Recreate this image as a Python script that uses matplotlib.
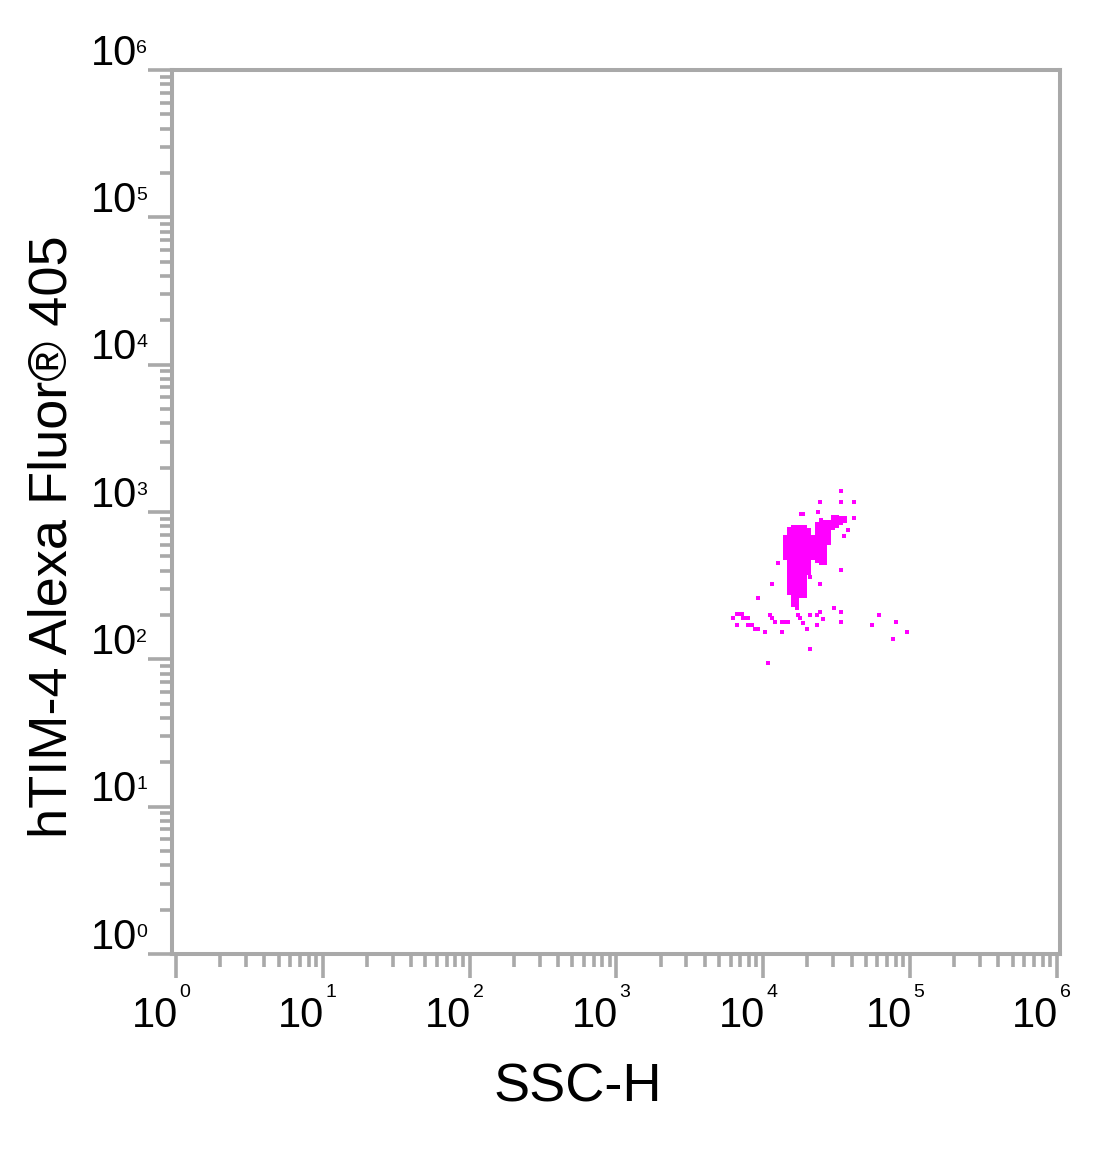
import numpy as np
import matplotlib
matplotlib.use("Agg")
import matplotlib.pyplot as plt

plt.rcParams['font.family'] = ['Liberation Sans', 'DejaVu Sans']

# ---- data ----
# dense core of the event cloud: column edges on SSC-H and per-column range of fluorescence
core_ssc_edges = [13640, 14520, 15460, 16470, 17540, 18650, 19870, 21170, 22550,
                  23990, 25550, 27200, 28980, 30830, 32850, 34980, 37220]
core_fl_low = [473, 274, 234, 216, 261, 261, 374, 473, 451, 438, 438, 598, 756, 780, 817, 843]
core_fl_high = [699, 792, 817, 817, 817, 817, 780, 699, 857, 912, 884, 884, 955, 955, 941, 941]

# isolated events
event_ssc = [33890, 24380, 33890, 41560, 18090, 18650, 23620, 41560, 37810, 35490,
             12610, 33890, 20830, 11480, 24380, 9220, 15950, 30360, 24380, 33890,
             17270, 20830, 23280, 25550, 61500, 6633, 6950, 7175, 6223, 7285,
             7515, 7870, 11130, 11480, 6633, 7870, 8125, 8390, 8790, 9220,
             10290, 12030, 13430, 14080, 14750, 13430, 17820, 18650, 19870, 23280,
             33890, 55130, 80350, 95400, 76560, 20830, 10790]
event_fl = [1390, 1172, 1172, 1172, 971, 971, 1002, 912, 756, 689,
            451, 405, 363, 325, 325, 261, 234, 223, 210, 210,
            200, 200, 200, 188, 200, 203, 203, 203, 191, 191,
            191, 191, 200, 191, 171, 171, 171, 171, 161, 161,
            153, 179, 179, 179, 179, 153, 191, 177, 161, 171,
            179, 171, 179, 153, 138, 118, 94.6]

decades = [0, 1, 2, 3, 4, 5, 6]

# ---- figure ----
W, H = 1100, 1166
fig = plt.figure(figsize=(W / 100, H / 100), dpi=100)
ax = fig.add_axes([172 / W, 1 - 954 / H, (1060 - 172) / W, (954 - 70) / H])
ax.set_xscale('log')
ax.set_yscale('log')
ax.set_xlim(10 ** -0.0272, 10 ** 6.022)
ax.set_ylim(1, 1e6)

magenta = '#ff00ff'
ax.fill_between(core_ssc_edges, np.append(core_fl_low, core_fl_low[-1]),
                np.append(core_fl_high, core_fl_high[-1]), step='post',
                color=magenta, linewidth=0)
ax.scatter(event_ssc, event_fl, s=7, marker='s', color=magenta, linewidths=0)

gray = '#a9a9a9'
for sp in ax.spines.values():
    sp.set_color(gray)
    sp.set_linewidth(2.9)

ax.xaxis.set_major_locator(matplotlib.ticker.LogLocator(base=10, numticks=20))
ax.yaxis.set_major_locator(matplotlib.ticker.LogLocator(base=10, numticks=20))
ax.xaxis.set_minor_locator(matplotlib.ticker.LogLocator(base=10, subs=np.arange(2, 10), numticks=20))
ax.yaxis.set_minor_locator(matplotlib.ticker.LogLocator(base=10, subs=np.arange(2, 10), numticks=20))
ax.tick_params(which='major', length=17.5, width=2.6, color=gray, direction='out',
               labelbottom=False, labelleft=False)
ax.tick_params(which='minor', length=9, width=2.6, color=gray, direction='out',
               labelbottom=False, labelleft=False)

# custom tick labels: "10" with superscript exponent
for k in decades:
    ax.annotate('10', xy=(10 ** k, 0), xycoords=('data', 'axes fraction'),
                xytext=(1.2, -52.6), textcoords='offset points',
                ha='right', va='baseline', fontsize=30)
    ax.annotate(str(k), xy=(10 ** k, 0), xycoords=('data', 'axes fraction'),
                xytext=(2.2, -31), textcoords='offset points',
                ha='left', va='baseline', fontsize=14)
    ax.annotate('10', xy=(0, 10 ** k), xycoords=('axes fraction', 'data'),
                xytext=(-25.2, 3.9), textcoords='offset points',
                ha='right', va='baseline', fontsize=30)
    ax.annotate(str(k), xy=(0, 10 ** k), xycoords=('axes fraction', 'data'),
                xytext=(-25.6, 12.4), textcoords='offset points',
                ha='left', va='baseline', fontsize=14)

ax.set_xlabel('SSC-H', fontsize=39, va='baseline')
ax.xaxis.set_label_coords((578 - 172) / 888, (954 - 1102) / 884)
ax.set_ylabel('hTIM-4 Alexa Fluor® 405', fontsize=39, va='baseline')
ax.yaxis.set_label_coords((67 - 172) / 888, (954 - 537) / 884)

fig.savefig('out.png', dpi=100)
